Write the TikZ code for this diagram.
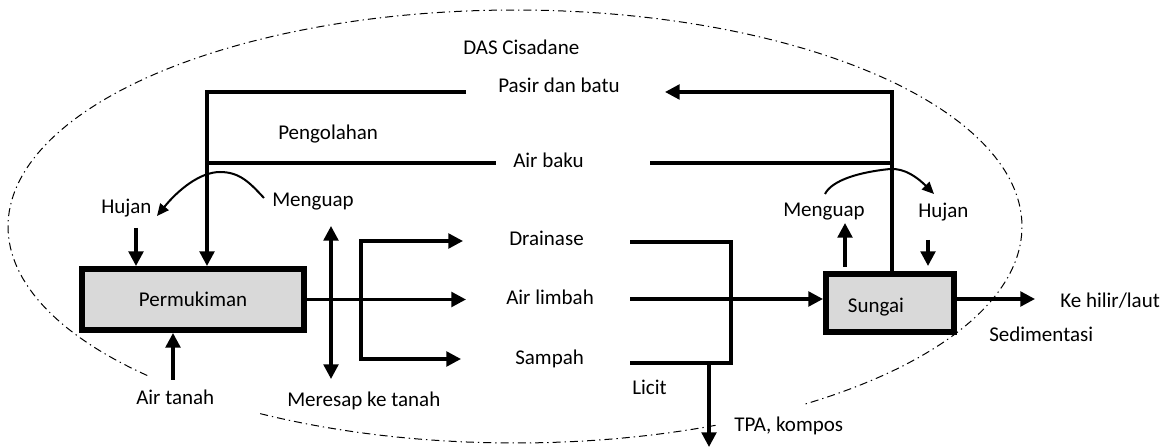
\documentclass[tikz,border=0pt]{standalone}
\usepackage{fontspec}
\setmainfont{Carlito}
\usetikzlibrary{arrows.meta}
\definecolor{boxgray}{HTML}{D9D9D9}
\tikzset{
  flow/.style={line width=2.5pt},
  arr/.style={flow, -{Triangle[length=11pt,width=11pt]}},
  dblarr/.style={flow, {Triangle[length=11pt,width=11pt]}-{Triangle[length=11pt,width=11pt]}},
  boxnode/.style={draw, line width=4.2pt, fill=boxgray, inner sep=0pt, text depth=0pt,
                  font=\fontsize{15.75pt}{18pt}\selectfont},
  lbl/.style={anchor=base west, inner sep=0pt, font=\fontsize{15.75pt}{18pt}\selectfont},
  curv/.style={line width=1.5pt, -{Triangle[length=9pt,width=8pt]}},
  dasline/.style={line width=0.75pt, dash pattern=on 6pt off 3pt on 1pt off 3pt}
}
\begin{document}
\begin{tikzpicture}[x=0.75pt, y=-0.75pt]
\useasboundingbox (0,0) rectangle (1163,448);
% catchment boundary
\draw[dasline] plot[domain=66.7:120.2, samples=40] ({515+507*cos(\x)},{226.5+216.5*sin(\x)});
\draw[dasline] plot[domain=136.5:415.4, samples=200] ({515+507*cos(\x)},{226.5+216.5*sin(\x)});

% boxes
\node[boxnode, minimum width=166.8pt, minimum height=46pt, text height=11.25pt] (perm) at (193,299.5) {Permukiman};
\node[boxnode, minimum width=96.3pt, minimum height=43.8pt, text height=15pt] (sungai) at (890,303) {\hspace*{-21pt}Sungai};

% labels
\node[lbl] (das) at (463,55) {DAS Cisadane};
\node[lbl] (pasir) at (498,93) {Pasir dan batu};
\node[lbl] (pengolahan) at (278,140) {Pengolahan};
\node[lbl] (airbaku) at (513,168) {Air baku};
\node[lbl] (menguapL) at (272,207) {Menguap};
\node[lbl] (hujanL) at (101,214) {Hujan};
\node[lbl] (airtanah) at (136,405) {Air tanah};
\node[lbl] (meresap) at (287,407) {Meresap ke tanah};
\node[lbl] (drainase) at (509,246) {Drainase};
\node[lbl] (airlimbah) at (506,305) {Air limbah};
\node[lbl] (sampah) at (515,365) {Sampah};
\node[lbl] (licit) at (632,395) {Licit};
\node[lbl] (tpa) at (734,432) {TPA, kompos};
\node[lbl] (menguapR) at (783,217) {Menguap};
\node[lbl] (hujanR) at (918,218) {Hujan};
\node[lbl] (kehilir) at (1060,308) {Ke hilir/laut};
\node[lbl] (sedimentasi) at (989,342) {Sedimentasi};

% coordinates
\coordinate (pEnd) at (466,92);
\coordinate (pCorner) at (207,92);
\coordinate (aL) at (207,163);
\coordinate (aR) at (496,163);
\coordinate (sCorner) at (892,92);
\coordinate (pTip) at (665,92);
\coordinate (bL) at (650,163);
\coordinate (bR) at (892,163);
\coordinate (hujL) at (136,228);
\coordinate (atan) at (173,380);
\coordinate (mainTip) at (466,299.5);
\coordinate (mTop) at (331,226);
\coordinate (mBot) at (331,379);
\coordinate (dTip) at (463,241);
\coordinate (bx1) at (361,241);
\coordinate (bx2) at (361,359);
\coordinate (sTip) at (461,359);
\coordinate (rd1) at (630,242);
\coordinate (rd2) at (731,242);
\coordinate (rd3) at (731,363);
\coordinate (rd4) at (630,363);
\coordinate (lim) at (630,299);
\coordinate (tpaTop) at (709,363);
\coordinate (tpaTip) at (709,447);
\coordinate (upBot) at (845,267);
\coordinate (upTip) at (845,223);
\coordinate (dnTop) at (928,240);
\coordinate (dnTip) at (928,266);
\coordinate (hilTip) at (1035,299);

% flows
\draw[arr] (pEnd) -- (pCorner) -- (perm.north -| pCorner);
\draw[flow] (aL) -- (aR);
\draw[arr] (sungai.north -| sCorner) -- (sCorner) -- (pTip);
\draw[flow] (bL) -- (bR);
\draw[arr] (hujL) -- (perm.north -| hujL);
\draw[arr] (atan) -- (perm.south -| atan);
\draw[arr] (perm.east) -- (mainTip);
\draw[dblarr] (mTop) -- (mBot);
\draw[dblarr] (dTip) -- (bx1) -- (bx2) -- (sTip);
\draw[flow] (rd1) -- (rd2) -- (rd3) -- (rd4);
\draw[arr] (lim) -- (sungai.west |- lim);
\draw[arr] (tpaTop) -- (tpaTip);
\draw[arr] (upBot) -- (upTip);
\draw[arr] (dnTop) -- (dnTip);
\draw[arr] (sungai.east |- hilTip) -- (hilTip);

% evaporation / rain curves
\draw[curv] (264,198) .. controls (250,183) and (240,172) .. (220,172)
            .. controls (200,172) and (178,190) .. (157,216);
\draw[curv] (825,194) .. controls (832,180) and (860,172) .. (890,169)
            .. controls (905,168) and (918,178) .. (934,194);
\end{tikzpicture}
\end{document}
